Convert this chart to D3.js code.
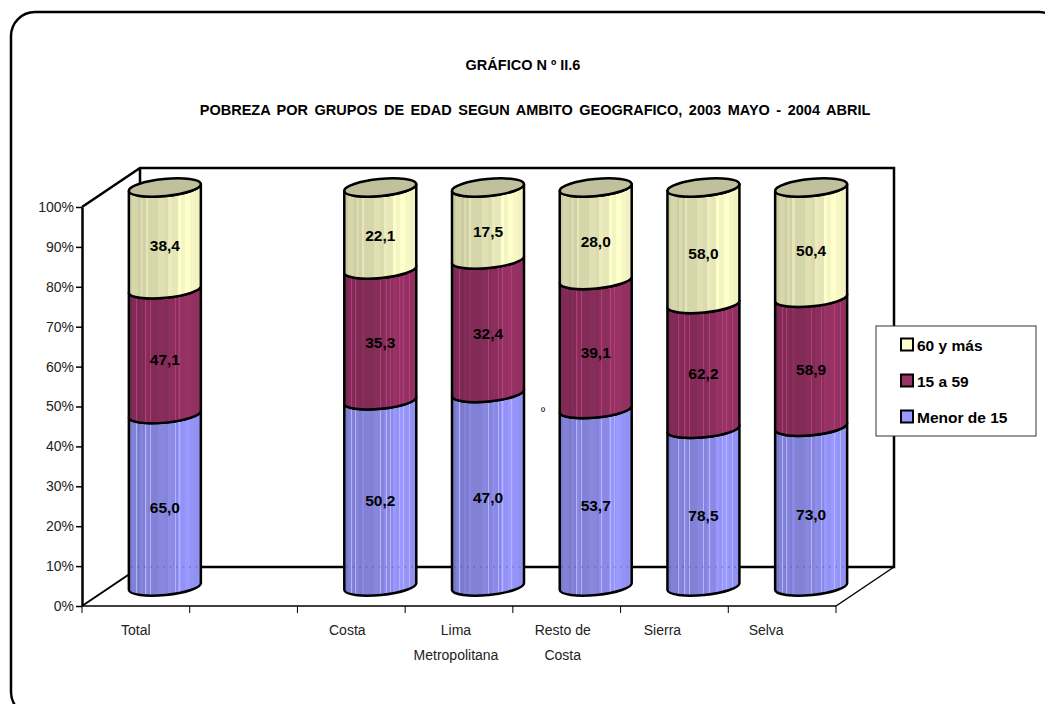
<!DOCTYPE html>
<html>
<head>
<meta charset="utf-8">
<script src="https://cdn.jsdelivr.net/npm/d3@7"></script>
<style>
    body { margin: 0; background: #fff; }
    svg { display: block; }
    text { font-family: "Liberation Sans Narrow", "Liberation Sans", sans-serif; fill: #000; }
    .title { font-family: "Liberation Sans", sans-serif; font-weight: bold; font-size: 14.5px; }
    .axis text { font-size: 14px; fill: #222; }
    .value, .legend-label { font-weight: bold; font-size: 15.5px; }
</style>
</head>
<body>
<div id="chart"></div>
<script>
// categories, the second slot is empty in the original sheet
const categories = ['Total', '', 'Costa', 'Lima|Metropolitana', 'Resto de|Costa', 'Sierra', 'Selva'];
const seriesNames = ['Menor de 15', '15 a 59', '60 y más'];
const menor15 = [65.0, null, 50.2, 47.0, 53.7, 78.5, 73.0];
const de15a59 = [47.1, null, 35.3, 32.4, 39.1, 62.2, 58.9];
const de60mas = [38.4, null, 22.1, 17.5, 28.0, 58.0, 50.4];
const yTicks = [0, 10, 20, 30, 40, 50, 60, 70, 80, 90, 100];

const width = 1045, height = 704;
const plot = {left: 82, right: 836, top: 207, bottom: 606};
const depth = {x: 58, y: -39};
const radius = {x: 36, y: 8.5, tilt: 3.5};

// category labels sit a bit left of their slots in the original
const labelShift = [0, 0, -4, -3, -4, -12, -16];

const colors = {
    '60 y más': {base: '#ffffcc', cap: '#c0c09c'},
    '15 a 59': {base: '#993366', cap: '#7a2a52'},
    'Menor de 15': {base: '#9999ff', cap: '#7a7acc'}
};

// [offset, brightness] steps for the faceted look of the cylinders
const facets = [[0, .8], [.05, .84], [.13, .8], [.16, .86], [.2, .82], [.24, .9], [.27, .84], [.36, .84],
    [.41, .88], [.5, .86], [.55, .92], [.6, .9], [.68, 1], [.72, .96], [.78, 1], [.85, .97], [.91, .95], [1, .92]];
const stripes = [.1, .15, .23, .3, .5, .58, .64, .7, .76, .82, .9];

const svg = d3.select('#chart').append('svg')
    .attr('width', width)
    .attr('height', height);

// outer frame runs off the page on the right and bottom
svg.append('rect')
    .attr('x', 11).attr('y', 12)
    .attr('width', 1052).attr('height', 704)
    .attr('rx', 24).attr('ry', 24)
    .attr('fill', 'none').attr('stroke', '#000').attr('stroke-width', 2.5);

svg.append('text').attr('class', 'title')
    .attr('x', 523).attr('y', 70).attr('text-anchor', 'middle')
    .text('GRÁFICO N º II.6');
svg.append('text').attr('class', 'title')
    .attr('x', 535).attr('y', 115).attr('text-anchor', 'middle')
    .style('word-spacing', '2.5px')
    .text('POBREZA POR GRUPOS DE EDAD SEGUN AMBITO GEOGRAFICO, 2003 MAYO - 2004 ABRIL');

const x = d3.scaleBand().domain(d3.range(categories.length)).range([plot.left, plot.right]);
const y = d3.scaleLinear().domain([0, 100]).range([plot.bottom, plot.top]);

// gradients
const defs = svg.append('defs');
seriesNames.forEach(function(name, i) {
    const g = defs.append('linearGradient').attr('id', 'cyl' + i);
    const base = d3.rgb(colors[name].base);
    const shade = function(k) { return d3.rgb(base.r * k, base.g * k, base.b * k).formatHex(); };
    facets.forEach(function(f, j) {
        if (j == facets.length - 1) return;
        const next = facets[j + 1];
        let light = stripes.find(function(s) { return s >= f[0] && s < next[0]; });
        let parts = [[f[0], shade(f[1])]];
        if (light !== undefined && i < 2 || light !== undefined && name != '60 y más') {
            parts.push([light, shade(f[1])]);
            parts.push([light, d3.rgb(base).brighter(.45).formatHex()]);
            parts.push([light + .008, d3.rgb(base).brighter(.45).formatHex()]);
            parts.push([light + .008, shade(f[1])]);
        }
        parts.push([next[0], shade(f[1])]);
        parts.forEach(function(p) {
            g.append('stop').attr('offset', p[0]).attr('stop-color', p[1]);
        });
    });
});

// walls and floor
const walls = svg.append('g').attr('fill', 'none').attr('stroke', '#000');
walls.append('path').attr('stroke-width', 2.5)
    .attr('d', d3.line()([
        [plot.left, plot.top],
        [plot.left + depth.x, plot.top + depth.y],
        [plot.right + depth.x, plot.top + depth.y],
        [plot.right + depth.x, plot.bottom + depth.y],
        [plot.left + depth.x, plot.bottom + depth.y],
        [plot.left + depth.x, plot.top + depth.y]
    ]));
walls.append('path').attr('stroke-width', 2)
    .attr('d', d3.line()([[plot.left + depth.x, plot.bottom + depth.y], [plot.left, plot.bottom]]));
walls.append('path').attr('stroke-width', 1.5)
    .attr('d', d3.line()([[plot.right + depth.x, plot.bottom + depth.y], [plot.right, plot.bottom]]));

// y axis
const yAxis = svg.append('g').attr('class', 'axis')
    .attr('transform', `translate(${plot.left}, 0)`)
    .call(d3.axisLeft(y).tickValues(yTicks).tickFormat(function(d) { return d + '%'; }).tickSize(6).tickSizeOuter(0));
yAxis.select('.domain').attr('stroke-width', 2.5);
yAxis.selectAll('line').attr('stroke-width', 1.5);
yAxis.selectAll('text').attr('dx', 1);

// x axis, ticks go on the slot borders so they are drawn by hand from the scale
const xAxis = svg.append('g').attr('class', 'axis')
    .attr('transform', `translate(0, ${plot.bottom})`);
xAxis.append('line')
    .attr('x1', plot.left).attr('x2', plot.right)
    .attr('stroke', '#000').attr('stroke-width', 1.5);
d3.range(categories.length + 1).forEach(function(i) {
    const px = plot.left + i * x.bandwidth();
    xAxis.append('line')
        .attr('x1', px).attr('x2', px).attr('y1', 0).attr('y2', 7)
        .attr('stroke', '#000').attr('stroke-width', 1);
});
categories.forEach(function(label, i) {
    label.split('|').forEach(function(line, j) {
        xAxis.append('text')
            .attr('x', x(i) + x.bandwidth() / 2 + labelShift[i])
            .attr('y', 29 + j * 25)
            .attr('text-anchor', 'middle')
            .text(line);
    });
});

// cylinders
function sideX(i) { return x(i) + x.bandwidth() / 2 + depth.x / 2; }
function sideY(v) { return y(v) + depth.y / 2; }

function segmentPath(cx, top, bottom) {
    const r = Math.hypot(radius.x, radius.tilt);
    const rot = -Math.atan2(radius.tilt, radius.x) * 180 / Math.PI;
    return `M${cx - radius.x},${top + radius.tilt}`
        + `A${r},${radius.y} ${rot} 0 0 ${cx + radius.x},${top - radius.tilt}`
        + `L${cx + radius.x},${bottom - radius.tilt}`
        + `A${r},${radius.y} ${rot} 0 1 ${cx - radius.x},${bottom + radius.tilt}Z`;
}

function capPath(cx, cy) {
    const r = Math.hypot(radius.x, radius.tilt);
    const rot = -Math.atan2(radius.tilt, radius.x) * 180 / Math.PI;
    return `M${cx - radius.x},${cy + radius.tilt}`
        + `A${r},${radius.y} ${rot} 0 0 ${cx + radius.x},${cy - radius.tilt}`
        + `A${r},${radius.y} ${rot} 0 0 ${cx - radius.x},${cy + radius.tilt}Z`;
}

const bars = svg.append('g');
const valueLayer = svg.append('g');
const series = [menor15, de15a59, de60mas];

categories.forEach(function(label, i) {
    if (menor15[i] === null) return;
    const cx = sideX(i);
    const total = d3.sum(series, function(s) { return s[i]; });
    let acc = 0;
    series.forEach(function(s, k) {
        const from = acc / total * 100;
        acc += s[i];
        const to = acc / total * 100;
        bars.append('path')
            .attr('d', segmentPath(cx, sideY(to), sideY(from)))
            .attr('fill', `url(#cyl${k})`)
            .attr('stroke', '#000').attr('stroke-width', 2.5)
            .attr('stroke-linejoin', 'round');
        valueLayer.append('text').attr('class', 'value')
            .attr('x', cx)
            .attr('y', (sideY(to) + sideY(from)) / 2 + 13)
            .attr('text-anchor', 'middle')
            .text(s[i].toFixed(1).replace('.', ','));
    });
    bars.append('path')
        .attr('d', capPath(cx, sideY(100)))
        .attr('fill', colors[seriesNames[2]].cap)
        .attr('stroke', '#000').attr('stroke-width', 2.5);
    // floor line shows through the base as a faint dotted line
    bars.append('line')
        .attr('x1', cx - radius.x + 2).attr('x2', cx + radius.x - 2)
        .attr('y1', plot.bottom + depth.y).attr('y2', plot.bottom + depth.y)
        .attr('stroke', '#333').attr('stroke-opacity', .45)
        .attr('stroke-dasharray', '1.5,5');
});

// stray mark in the original, between Lima and Resto de Costa
svg.append('text')
    .attr('x', 543).attr('y', 415)
    .attr('text-anchor', 'middle')
    .style('font-size', '11px')
    .text('º');

// legend
const legend = svg.append('g').attr('transform', 'translate(876, 326)');
legend.append('rect')
    .attr('width', 160).attr('height', 110)
    .attr('fill', '#fff').attr('stroke', '#333').attr('stroke-width', 1);
seriesNames.slice().reverse().forEach(function(name, i) {
    const row = legend.append('g').attr('transform', `translate(25, ${19 + i * 36})`);
    row.append('rect')
        .attr('x', 0).attr('y', -6.5)
        .attr('width', 12).attr('height', 12)
        .attr('fill', colors[name].base)
        .attr('stroke', '#000').attr('stroke-width', 2);
    row.append('text').attr('class', 'legend-label')
        .attr('x', 16).attr('y', 5.5)
        .text(name);
});
</script>
</body>
</html>
